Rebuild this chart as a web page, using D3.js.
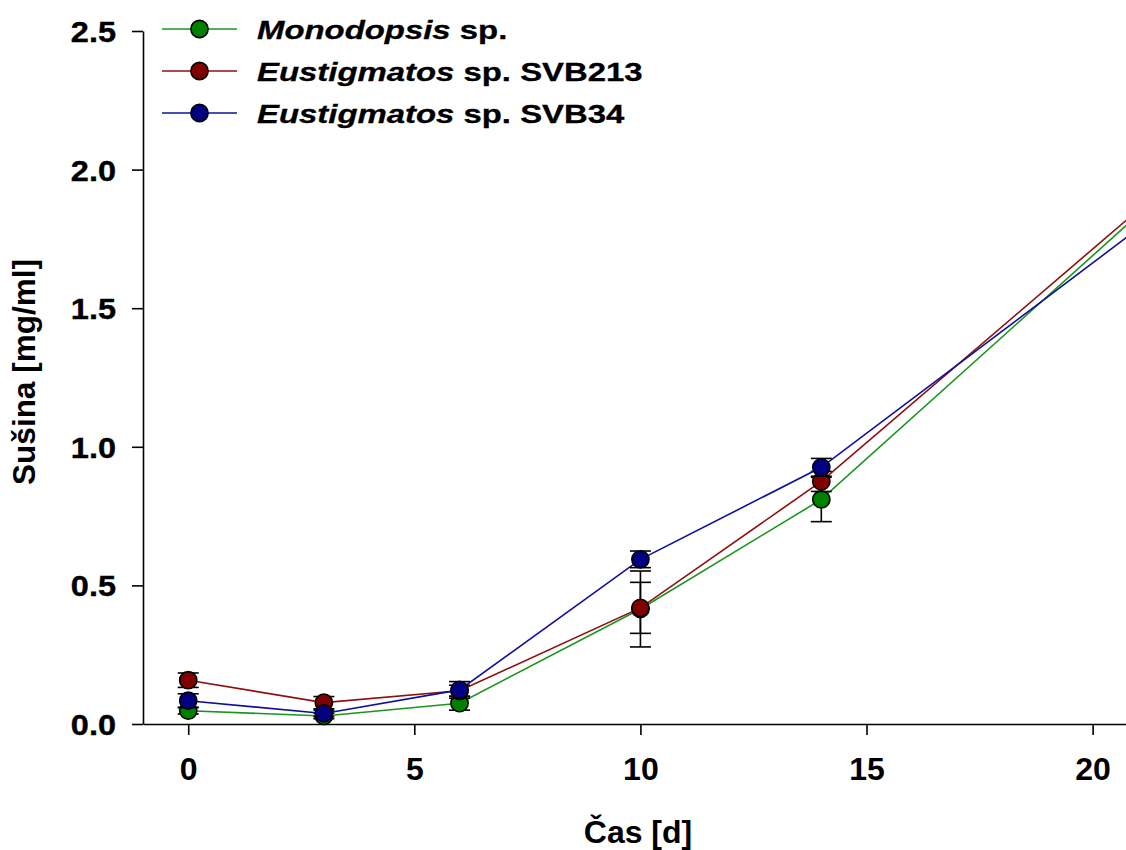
<!DOCTYPE html>
<html>
<head>
<meta charset="utf-8">
<script src="https://cdn.jsdelivr.net/npm/d3@7"></script>
<style>
  html, body { margin: 0; padding: 0; background: #fff; overflow: hidden; }
  svg { display: block; }
  text { font-family: "Liberation Sans", Arial, sans-serif; font-weight: bold; fill: #000; }
</style>
</head>
<body>
<script>
// Sampling days
const days = [0, 3, 6, 10, 14, 21];

// Dry weight (mg/ml) and standard deviations per strain
const monodopsis    = [0.048, 0.029, 0.075, 0.415, 0.810, 1.836];
const monodopsisErr = [0.012, 0.010, 0.025, 0.137, 0.080, 0.060];
const svb213        = [0.158, 0.077, 0.120, 0.419, 0.875, 1.853];
const svb213Err     = [0.026, 0.022, 0.020, 0.092, 0.036, 0.060];
const svb34         = [0.084, 0.038, 0.123, 0.594, 0.926, 1.786];
const svb34Err      = [0.025, 0.012, 0.030, 0.030, 0.032, 0.060];

// Legend entries: italic genus + plain suffix
const seriesNames = [
  ["Monodopsis", " sp."],
  ["Eustigmatos", " sp. SVB213"],
  ["Eustigmatos", " sp. SVB34"]
];
const seriesColors = ["#008000", "#800000", "#000080"];
const lineColors   = ["#1a961a", "#8b1010", "#10109a"];

const xTicks = [0, 5, 10, 15, 20];
const yTicks = [0.0, 0.5, 1.0, 1.5, 2.0, 2.5];

const series = [
  { values: monodopsis, errors: monodopsisErr },
  { values: svb213,     errors: svb213Err },
  { values: svb34,      errors: svb34Err }
];

const W = 1126, H = 850;
const svg = d3.select("body").append("svg")
  .attr("width", W).attr("height", H);

// x axis runs past the right edge of the window
const x = d3.scaleLinear().domain([-1, 22]).range([143, 143 + 23 * 45.22]);
const y = d3.scaleLinear().domain([0, 2.5]).range([724, 31]);

// X axis
const xAxis = svg.append("g")
  .attr("transform", `translate(0,${y(0)})`)
  .call(d3.axisBottom(x).tickValues(xTicks).tickSize(11).tickSizeOuter(0).tickPadding(24)
    .tickFormat(d3.format("d")));
xAxis.select(".domain").attr("stroke", "#000").attr("stroke-width", 1.6);
xAxis.selectAll(".tick line").attr("stroke", "#000").attr("stroke-width", 1.6);
xAxis.selectAll(".tick text")
  .attr("font-size", 32)
  .attr("dy", "0.71em")
  .attr("y", 33);

// Y axis
const yAxis = svg.append("g")
  .attr("transform", `translate(${x(-1)},0)`)
  .call(d3.axisLeft(y).tickValues(yTicks).tickSize(11).tickSizeOuter(0)
    .tickFormat(d3.format(".1f")));
yAxis.select(".domain").attr("stroke", "#000").attr("stroke-width", 1.6);
yAxis.selectAll(".tick line").attr("stroke", "#000").attr("stroke-width", 1.6);
const ySx = 1.12;
yAxis.selectAll(".tick text")
  .attr("font-size", 29)
  .attr("x", -27 / ySx)
  .attr("dy", "0.36em")
  .attr("stroke", "#000").attr("stroke-width", 0.4)
  .attr("transform", `scale(${ySx},1)`);

// Axis titles
svg.append("text")
  .attr("x", 638).attr("y", 843)
  .attr("text-anchor", "middle")
  .attr("font-size", 32)
  .text("Čas [d]");

svg.append("text")
  .attr("transform", "translate(35,372) rotate(-90)")
  .attr("text-anchor", "middle")
  .attr("font-size", 31.5)
  .text("Sušina [mg/ml]");

// Series: line, error bars, markers
const line = d3.line().x((d, i) => x(days[i])).y(d => y(d));
const capHalf = 10.5;

series.forEach((s, k) => {
  const g = svg.append("g");
  g.append("path")
    .datum(s.values)
    .attr("d", line)
    .attr("fill", "none")
    .attr("stroke", lineColors[k])
    .attr("stroke-width", 1.6);

  const pts = s.values.map((v, i) => ({ x: days[i], v, e: s.errors[i] }));

  const eb = g.selectAll(".err").data(pts).enter().append("g").attr("class", "err")
    .attr("stroke", "#000").attr("stroke-width", 1.6);
  eb.append("line")
    .attr("x1", d => x(d.x)).attr("x2", d => x(d.x))
    .attr("y1", d => y(d.v + d.e)).attr("y2", d => y(d.v - d.e));
  eb.append("line")
    .attr("x1", d => x(d.x) - capHalf).attr("x2", d => x(d.x) + capHalf)
    .attr("y1", d => y(d.v + d.e)).attr("y2", d => y(d.v + d.e));
  eb.append("line")
    .attr("x1", d => x(d.x) - capHalf).attr("x2", d => x(d.x) + capHalf)
    .attr("y1", d => y(d.v - d.e)).attr("y2", d => y(d.v - d.e));

  g.selectAll("circle").data(pts).enter().append("circle")
    .attr("cx", d => x(d.x)).attr("cy", d => y(d.v))
    .attr("r", 8.6)
    .attr("fill", seriesColors[k])
    .attr("stroke", "#000").attr("stroke-width", 1.6);
});

// Legend
const legendRows = [29, 71, 113];
const legSx = 1.29;
seriesNames.forEach((nm, k) => {
  const ly = legendRows[k];
  svg.append("line")
    .attr("x1", 162).attr("x2", 237).attr("y1", ly).attr("y2", ly)
    .attr("stroke", lineColors[k]).attr("stroke-width", 1.6);
  svg.append("circle")
    .attr("cx", 199.5).attr("cy", ly).attr("r", 8.6)
    .attr("fill", seriesColors[k]).attr("stroke", "#000").attr("stroke-width", 1.6);
  const t = svg.append("text")
    .attr("transform", `translate(257,${ly + 9.5}) scale(${legSx},1)`)
    .attr("font-size", 25.5)
    .attr("stroke", "#000").attr("stroke-width", 0.3);
  t.append("tspan").attr("font-style", "italic").text(nm[0]);
  t.append("tspan").text(nm[1]);
});
</script>
</body>
</html>
